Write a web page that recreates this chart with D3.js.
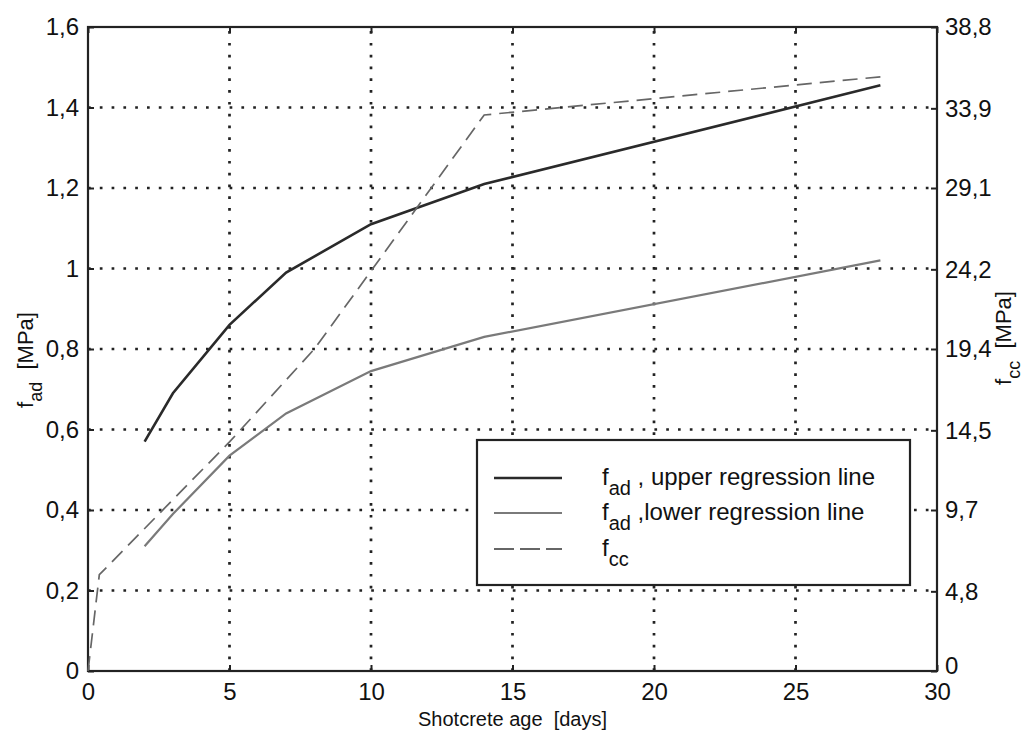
<!DOCTYPE html>
<html><head><meta charset="utf-8">
<script src="https://cdn.jsdelivr.net/npm/d3@7"></script>
<style>
body{margin:0;background:#fff;}
svg{font-family:"Liberation Sans",Arial,sans-serif;}
text{white-space:pre;}
</style></head>
<body><svg id="c" width="1030" height="734"></svg>
<script>
// ---- data ----
const ageUpper = [2, 3, 5, 7, 10, 14, 28];
const fadUpper = [0.57, 0.69, 0.86, 0.99, 1.11, 1.21, 1.455];
const ageLower = [2, 3, 5, 7, 10, 14, 28];
const fadLower = [0.31, 0.39, 0.535, 0.64, 0.745, 0.83, 1.02];
const ageFcc = [0, 0.4, 5, 8, 14, 28];
const fccMPa = [0, 5.8, 13.8, 19.4, 33.5, 35.8];
const xTicks = [0, 5, 10, 15, 20, 25, 30];
const yLeftTicks = [0, 0.2, 0.4, 0.6, 0.8, 1, 1.2, 1.4, 1.6];
const yRightTicks = [0, 4.8, 9.7, 14.5, 19.4, 24.2, 29.1, 33.9, 38.8];
const legendLabels = [
  {sub: "ad", text: " , upper regression line"},
  {sub: "ad", text: " ,lower regression line"},
  {sub: "cc", text: ""}
];

// ---- layout ----
const L = 88, R = 937, T = 27, B = 671;
const svg = d3.select("#c");
const x = d3.scaleLinear().domain([0, 30]).range([L, R]);
const yL = d3.scaleLinear().domain([0, 1.6]).range([B, T]);
const yR = d3.scaleLinear().domain([0, 38.8]).range([B, T]);
const comma = d => String(d).replace(".", ",");
const ink = "#222";

// grid
const grid = svg.append("g").attr("stroke", ink).attr("stroke-width", 2.7)
  .attr("stroke-dasharray", "2.7,9.1");
grid.selectAll(".gx").data(xTicks.slice(1, -1)).join("line")
  .attr("x1", d => x(d)).attr("x2", d => x(d)).attr("y1", B).attr("y2", T);
grid.selectAll(".gy").data(yLeftTicks.slice(1, -1)).join("line")
  .attr("y1", d => yL(d)).attr("y2", d => yL(d)).attr("x1", L).attr("x2", R);

// axes
const fs = 24;
function styleAxis(g) {
  g.select(".domain").remove();
  g.selectAll(".tick line").attr("stroke", ink).attr("stroke-width", 2);
  g.selectAll(".tick text").attr("fill", "#111").style("font-size", fs + "px")
    .style("font-family", "'Liberation Sans',Arial,sans-serif");
}
svg.append("g").attr("transform", `translate(0,${B})`)
  .call(d3.axisBottom(x).tickValues(xTicks).tickFormat(comma).tickSizeInner(-6).tickSizeOuter(0).tickPadding(12))
  .call(styleAxis);
svg.append("g").attr("transform", `translate(0,${T})`)
  .call(d3.axisTop(x).tickValues(xTicks).tickFormat("").tickSizeInner(-6).tickSizeOuter(0))
  .call(styleAxis);
svg.append("g").attr("transform", `translate(${L},0)`)
  .call(d3.axisLeft(yL).tickValues(yLeftTicks).tickFormat(comma).tickSizeInner(-6).tickSizeOuter(0).tickPadding(9))
  .call(styleAxis);
const rAx = svg.append("g").attr("transform", `translate(${R},0)`)
  .call(d3.axisRight(yR).tickValues(yRightTicks).tickFormat(comma).tickSizeInner(-6).tickSizeOuter(0).tickPadding(8))
  .call(styleAxis);
rAx.selectAll(".tick text").filter(d => d === 0).attr("y", -5);

// frame
svg.append("rect").attr("x", L).attr("y", T).attr("width", R - L).attr("height", B - T)
  .attr("fill", "none").attr("stroke", ink).attr("stroke-width", 2.2);

// lines
const lineL = d3.line().x(d => x(d[0])).y(d => yL(d[1]));
const lineR = d3.line().x(d => x(d[0])).y(d => yR(d[1]));
svg.append("path").datum(ageUpper.map((a, i) => [a, fadUpper[i]]))
  .attr("d", lineL).attr("fill", "none").attr("stroke", "#2a2a2a").attr("stroke-width", 2.6);
svg.append("path").datum(ageLower.map((a, i) => [a, fadLower[i]]))
  .attr("d", lineL).attr("fill", "none").attr("stroke", "#7a7a7a").attr("stroke-width", 2.2);
svg.append("path").datum(ageFcc.map((a, i) => [a, fccMPa[i]]))
  .attr("d", lineR).attr("fill", "none").attr("stroke", "#666").attr("stroke-width", 1.7)
  .attr("stroke-dasharray", "15,8");

// legend
const lg = svg.append("g");
lg.append("rect").attr("x", 477).attr("y", 440).attr("width", 433).attr("height", 145)
  .attr("fill", "#fff").attr("stroke", ink).attr("stroke-width", 2.2);
const styles = [
  {c: "#2a2a2a", w: 2.6, da: null},
  {c: "#7a7a7a", w: 2.2, da: null},
  {c: "#666", w: 1.8, da: "20,6"}
];
const rowY = [478, 513, 549];
legendLabels.forEach((lab, i) => {
  lg.append("line").attr("x1", 494).attr("x2", 562).attr("y1", rowY[i]).attr("y2", rowY[i])
    .attr("stroke", styles[i].c).attr("stroke-width", styles[i].w)
    .attr("stroke-dasharray", styles[i].da);
  const t = lg.append("text").attr("x", 602).attr("y", rowY[i] + 7)
    .style("font-size", fs + "px").attr("fill", "#111");
  t.append("tspan").text("f");
  t.append("tspan").attr("dy", 10).style("font-size", "20px").text(lab.sub);
  if (lab.text) t.append("tspan").attr("dy", -10).text(lab.text);
});

// axis titles
svg.append("text").attr("x", (L + R) / 2).attr("y", 726).attr("text-anchor", "middle")
  .style("font-size", "20px").attr("fill", "#111").text("Shotcrete age  [days]");
function vTitle(xc, yc, sub) {
  const t = svg.append("text").attr("transform", `translate(${xc},${yc}) rotate(-90)`)
    .attr("text-anchor", "middle").style("font-size", "22px").attr("fill", "#111");
  t.append("tspan").text("f");
  t.append("tspan").attr("dy", 9).style("font-size", "18px").text(sub);
  t.append("tspan").attr("dy", -9).text("  [MPa]");
}
vTitle(33, 360, "ad");
vTitle(1011, 338, "cc");
</script></body></html>
